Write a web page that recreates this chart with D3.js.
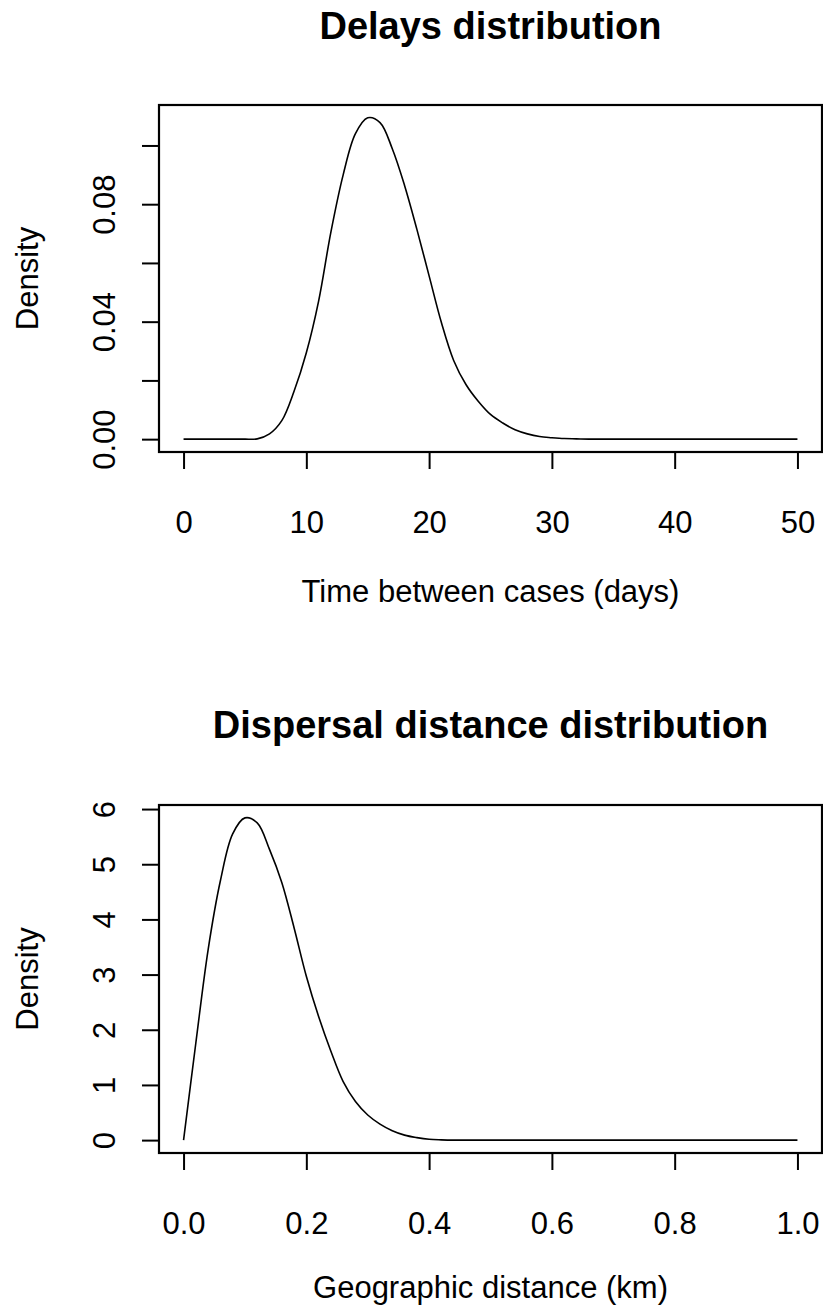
<!DOCTYPE html>
<html>
<head>
<meta charset="utf-8">
<script src="https://cdn.jsdelivr.net/npm/d3@7"></script>
<style>
  body { margin: 0; background: #fff; }
  text { font-family: "Liberation Sans", Arial, sans-serif; fill: #000; }
</style>
</head>
<body>
<div id="chart"></div>
<script>
// delay distribution (days between cases)
var delayDays = [0, 1, 2, 3, 4, 5, 6, 7, 8, 9, 10, 11, 12, 13, 14, 15, 16, 17, 18, 19, 20,
  21, 22, 23, 24, 25, 26, 27, 28, 29, 30, 31, 32, 33, 34, 35, 36, 37, 38, 39, 40,
  41, 42, 43, 44, 45, 46, 47, 48, 49, 50];
var delayDensity = [0, 0, 0, 0, 0, 0, 0.0001, 0.0018, 0.0063, 0.0163, 0.0294, 0.0470, 0.0705,
  0.0900, 0.1040, 0.1094, 0.1078, 0.0989, 0.0864, 0.0715, 0.0556, 0.0397, 0.0268, 0.0186,
  0.0129, 0.0084, 0.0055, 0.0032, 0.0018, 0.0009, 0.0005, 0.0002, 0.0001, 0, 0, 0, 0, 0, 0,
  0, 0, 0, 0, 0, 0, 0, 0, 0, 0, 0, 0];

// dispersal distance distribution (km)
var distKm = [0, 0.02, 0.04, 0.06, 0.08, 0.10, 0.12, 0.14, 0.16, 0.18, 0.20, 0.22, 0.24,
  0.26, 0.28, 0.30, 0.32, 0.34, 0.36, 0.38, 0.40, 0.42, 0.44, 0.46, 0.48, 0.50, 0.52, 0.54,
  0.56, 0.58, 0.60, 0.62, 0.64, 0.66, 0.68, 0.70, 0.72, 0.74, 0.76, 0.78, 0.80, 0.82, 0.84,
  0.86, 0.88, 0.90, 0.92, 0.94, 0.96, 0.98, 1.00];
var distDensity = [0, 1.76, 3.45, 4.70, 5.55, 5.84, 5.75, 5.27, 4.67, 3.85, 2.97, 2.24, 1.61,
  1.06, 0.70, 0.455, 0.29, 0.17, 0.09, 0.045, 0.015, 0.005, 0, 0, 0, 0, 0, 0, 0, 0, 0, 0, 0, 0, 0,
  0, 0, 0, 0, 0, 0, 0, 0, 0, 0, 0, 0, 0, 0, 0, 0];

// axis ticks and labels
var delayXTicks = [0, 10, 20, 30, 40, 50];
var delayYTicks = [0, 0.02, 0.04, 0.06, 0.08, 0.10];
var delayYLabels = [0, 0.04, 0.08];
var distXTicks = [0, 0.2, 0.4, 0.6, 0.8, 1.0];
var distYTicks = [0, 1, 2, 3, 4, 5, 6];
var distYLabels = [0, 1, 2, 3, 4, 5, 6];

var width = 823, height = 1309;

var svg = d3.select("#chart").append("svg")
    .attr("width", width)
    .attr("height", height);

// R style range padding (4% each side)
function padded(lo, hi) {
  var d = (hi - lo) * 0.04;
  return [lo - d, hi + d];
}

function drawPanel(p) {
  var x = d3.scaleLinear()
      .domain(padded(d3.min(p.xs), d3.max(p.xs)))
      .range([p.left, p.right]);
  var y = d3.scaleLinear()
      .domain(padded(d3.min(p.ys), d3.max(p.ys)))
      .range([p.bottom, p.top]);

  var pts = p.xs.map(function (d, i) { return [d, p.ys[i]]; });

  // curve
  svg.append("path")
      .datum(pts)
      .attr("fill", "none")
      .attr("stroke", "#000")
      .attr("stroke-width", 1.6)
      .attr("d", d3.line()
        .x(function (d) { return x(d[0]); })
        .y(function (d) { return y(Math.max(0, d[1])); })
        .curve(d3.curveCatmullRom.alpha(0.5)));

  // x axis
  var gx = svg.append("g")
      .attr("transform", "translate(0," + p.bottom + ")")
      .call(d3.axisBottom(x)
        .tickValues(p.xTicks)
        .tickSize(17)
        .tickFormat(p.xFormat));
  gx.select(".domain").remove();
  gx.selectAll(".tick line").attr("stroke", "#000").attr("stroke-width", 2);
  gx.selectAll(".tick text")
      .attr("y", 81)
      .attr("dy", 0)
      .style("font-size", "31px")
      .attr("fill", "#000");

  // y axis, labels turned like R's las=0
  var gy = svg.append("g")
      .attr("transform", "translate(" + p.left + ",0)")
      .call(d3.axisLeft(y)
        .tickValues(p.yTicks)
        .tickSize(17)
        .tickFormat(function (d) {
          return p.yLabels.indexOf(d) >= 0 ? p.yFormat(d) : "";
        }));
  gy.select(".domain").remove();
  gy.selectAll(".tick line").attr("stroke", "#000").attr("stroke-width", 2);
  gy.selectAll(".tick text")
      .attr("transform", "rotate(-90)")
      .attr("x", 0)
      .attr("y", -44)
      .attr("dy", 0)
      .attr("text-anchor", "middle")
      .style("font-size", "31px")
      .attr("fill", "#000");

  // box
  svg.append("rect")
      .attr("x", p.left)
      .attr("y", p.top)
      .attr("width", p.right - p.left)
      .attr("height", p.bottom - p.top)
      .attr("fill", "none")
      .attr("stroke", "#000")
      .attr("stroke-width", 2.2);

  // title
  svg.append("text")
      .attr("x", (p.left + p.right) / 2)
      .attr("y", p.titleY)
      .attr("text-anchor", "middle")
      .style("font-size", "38px")
      .style("font-weight", "bold")
      .text(p.title);

  // x label
  svg.append("text")
      .attr("x", (p.left + p.right) / 2)
      .attr("y", p.xLabelY)
      .attr("text-anchor", "middle")
      .style("font-size", "31px")
      .text(p.xLabel);

  // y label
  svg.append("text")
      .attr("transform", "translate(38," + (p.top + p.bottom) / 2 + ")rotate(-90)")
      .attr("text-anchor", "middle")
      .style("font-size", "31px")
      .text("Density");
}

drawPanel({
  xs: delayDays, ys: delayDensity,
  left: 159, right: 822, top: 105, bottom: 452,
  xTicks: delayXTicks, yTicks: delayYTicks, yLabels: delayYLabels,
  xFormat: d3.format("d"), yFormat: d3.format(".2f"),
  title: "Delays distribution", titleY: 39,
  xLabel: "Time between cases (days)", xLabelY: 602
});

drawPanel({
  xs: distKm, ys: distDensity,
  left: 159, right: 822, top: 805, bottom: 1153,
  xTicks: distXTicks, yTicks: distYTicks, yLabels: distYLabels,
  xFormat: d3.format(".1f"), yFormat: d3.format("d"),
  title: "Dispersal distance distribution", titleY: 738,
  xLabel: "Geographic distance (km)", xLabelY: 1298
});
</script>
</body>
</html>
